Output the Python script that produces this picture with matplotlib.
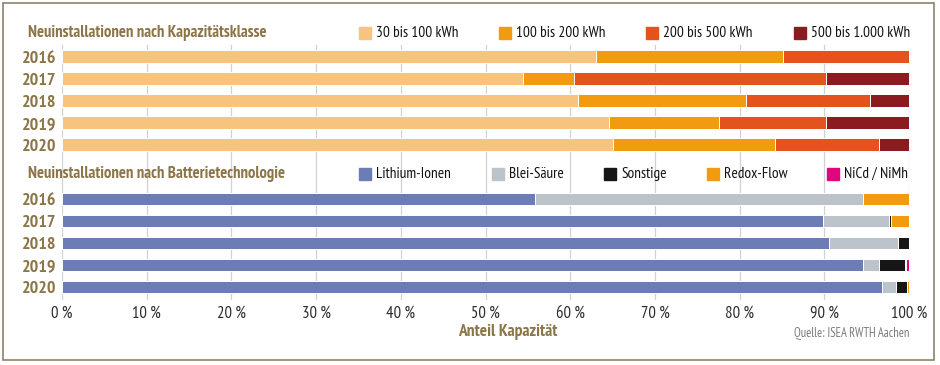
import numpy as np
import matplotlib.pyplot as plt
from matplotlib.patches import Rectangle

years = ["2016", "2017", "2018", "2019", "2020"]

# Anteil Kapazität in %, nach Kapazitätsklasse
cap_labels = ["30 bis 100 kWh", "100 bis 200 kWh", "200 bis 500 kWh", "500 bis 1.000 kWh"]
cap_30_100 = [63.1, 54.4, 60.9, 64.6, 65.1]
cap_100_200 = [22.0, 6.0, 19.8, 13.0, 19.1]
cap_200_500 = [14.9, 29.8, 14.7, 12.6, 12.2]
cap_500_1000 = [0.0, 9.8, 4.6, 9.8, 3.6]

# Anteil Kapazität in %, nach Batterietechnologie
tech_labels = ["Lithium-Ionen", "Blei-Säure", "Sonstige", "Redox-Flow", "NiCd / NiMh"]
li_ion = [55.9, 89.9, 90.5, 94.6, 96.8]
blei = [38.7, 7.7, 8.2, 1.8, 1.7]
sonstige = [0.0, 0.3, 1.3, 3.1, 1.3]
redox = [5.4, 2.1, 0.0, 0.2, 0.2]
nicd = [0.0, 0.0, 0.0, 0.3, 0.0]

ticks = np.arange(0, 101, 10)
tick_labels = ["%d\u2009%%" % t for t in ticks]

cap_colors = ["#F8C37C", "#F29B10", "#E5531C", "#8C1B1F"]
tech_colors = ["#6C7DB6", "#BCC3CA", "#161616", "#F29B10", "#E2067E"]
brown = "#8C7548"
FONT = ["PT Sans Narrow", "DejaVu Sans"]

W, H = 940, 365
fig = plt.figure(figsize=(W / 100, H / 100), dpi=100)

def fx(px):
    return px / W

def fy(py):
    return 1 - py / H

# plot area: 0 % at x=62, 100 % at x=909, y from 45 to 300 px
ax = fig.add_axes([fx(62), fy(300), fx(909) - fx(62), fy(45) - fy(300)])
row_px = 22.0
ax.set_xlim(0, 100)
ax.set_ylim((300 - 57) / row_px, (45 - 57) / row_px)

top_y = np.arange(len(years))
bot_y = top_y + (199 - 57) / row_px

for t in ticks:
    ax.axvline(t, color="#D2D2D2", lw=0.9, zorder=0)

left = np.zeros(len(years))
for vals, col in zip([cap_30_100, cap_100_200, cap_200_500, cap_500_1000], cap_colors):
    ax.barh(top_y, vals, left=left, height=13 / row_px, color=col,
            edgecolor="white", linewidth=0.7, zorder=2)
    left += np.array(vals)

left = np.zeros(len(years))
for vals, col in zip([li_ion, blei, sonstige, redox, nicd], tech_colors):
    ax.barh(bot_y, vals, left=left, height=12 / row_px, color=col,
            edgecolor="white", linewidth=0.7, zorder=2)
    left += np.array(vals)

for s in ax.spines.values():
    s.set_visible(False)
ax.set_xticks(ticks)
ax.set_xticklabels(tick_labels, family=FONT, fontsize=12, color="#2a2a2a")
ax.set_yticks(np.concatenate([top_y, bot_y]))
ax.set_yticklabels(years + years, family=FONT, fontsize=13, fontweight="bold", color=brown)
ax.tick_params(length=0, pad=4)
ax.tick_params(axis="x", pad=4)

# titles
fig.text(fx(28), fy(33), "Neuinstallationen nach Kapazitätsklasse", family=FONT,
         fontsize=12, fontweight="bold", color=brown, va="center")
fig.text(fx(28), fy(174), "Neuinstallationen nach Batterietechnologie", family=FONT,
         fontsize=12, fontweight="bold", color=brown, va="center")

# legends
def legend_row(labels, colors, xs, ypx):
    for lab, col, x in zip(labels, colors, xs):
        fig.patches.append(Rectangle((fx(x), fy(ypx + 6)), fx(12), 12 / H,
                                     transform=fig.transFigure, color=col))
        fig.text(fx(x + 17), fy(ypx), lab, family=FONT, fontsize=11,
                 color="#111111", va="center")

legend_row(cap_labels, cap_colors, [359, 499, 646, 794], 33)
legend_row(tech_labels, tech_colors, [359, 492, 604, 707, 827], 174)

fig.text(fx(508), fy(332), "Anteil Kapazität", family=FONT, fontsize=12.5,
         fontweight="bold", color=brown, ha="center", va="center")
fig.text(fx(909), fy(333), "Quelle: ISEA RWTH Aachen", family=FONT, fontsize=9,
         color="#7a7a7a", ha="right", va="center")

# frame
fig.patches.append(Rectangle((fx(3), fy(360)), fx(931), 357 / H, transform=fig.transFigure,
                             fill=False, edgecolor="#8F8168", lw=1.2))

fig.savefig("out.png", dpi=100)
